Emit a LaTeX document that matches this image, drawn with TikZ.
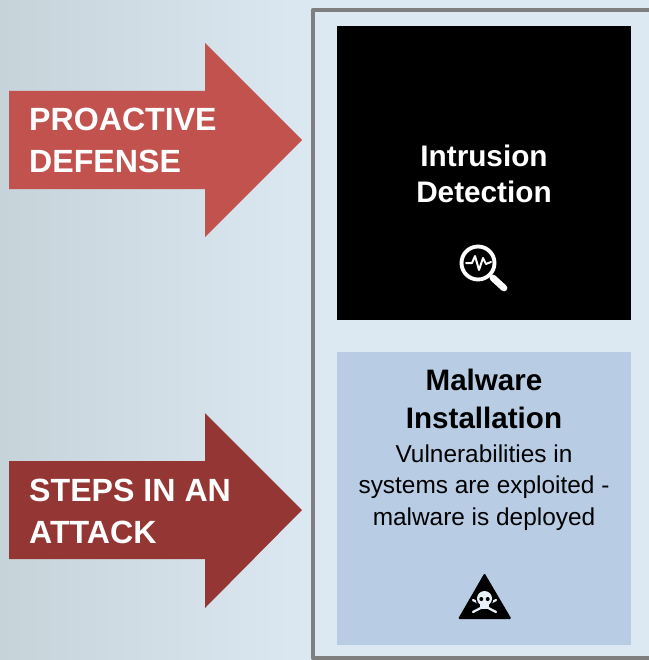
\documentclass[tikz,border=0pt]{standalone}
\usepackage{fontspec}
\setmainfont{Liberation Sans}
\definecolor{framegray}{HTML}{7F7F7F}
\definecolor{panelblue}{HTML}{DCE9F3}
\definecolor{stepblue}{HTML}{B8CCE4}
\definecolor{backleft}{HTML}{C6D3D9}
\definecolor{backmid}{HTML}{D2DDE4}
\definecolor{proactivered}{HTML}{C2524E}
\definecolor{attackred}{HTML}{943634}
\tikzset{
  arrowtext/.style={text=white,font=\fontsize{24.1}{31.5}\selectfont\bfseries,align=left,anchor=west},
  boxtext/.style={text=white,font=\fontsize{22.3}{27}\selectfont\bfseries,align=center},
  steptitle/.style={text=black,font=\fontsize{22.2}{29}\selectfont\bfseries,align=center},
  stepbody/.style={text=black,font=\fontsize{18.3}{23.6}\selectfont,align=center}
}
\begin{document}
\begin{tikzpicture}[x=0.75pt,y=-0.75pt]
      \useasboundingbox (0,0) rectangle (649,660);
      \shade[left color=backleft,middle color=backmid,right color=panelblue] (0,0) rectangle (320,660);
      \fill[panelblue] (315,0) rectangle (649,660);
      \draw[framegray,line width=3.4pt,line join=round] (649,10) -- (313,10) -- (313,658) -- (649,658);
      % arrows
      \fill[proactivered]
        (9,91) -- (205,91) -- (205,43) -- (302,140) -- (205,237) -- (205,189) -- (9,189) -- cycle;
      \fill[attackred]
        (9,461) -- (205,461) -- (205,413) -- (302,510) -- (205,608) -- (205,559) -- (9,559) -- cycle;
      \node[arrowtext] (proactive) at (24.5,140) {PROACTIVE\\DEFENSE};
      \node[arrowtext] (steps) at (24.5,511) {STEPS IN AN\\ATTACK};
      % boxes
      \fill[black] (337,26) rectangle (631,320);
      \fill[stepblue] (337,352) rectangle (631,645);
      \node[boxtext] (detection) at (484,173.5) {Intrusion\\Detection};
      \node[steptitle] (malware) at (484,399) {Malware\\Installation};
      \node[stepbody] (malwaretext) at (484,487.5) {Vulnerabilities in\\systems are exploited -\\malware is deployed};
      % magnifier
      \begin{scope}[white,line cap=round,line join=round]
        \draw[line width=2.9pt] (478,263) circle (16.5);
        \draw[line width=5pt] (493,278) -- (504,288);
        \draw[line width=1.5pt] (466,263) -- (472,263) -- (475,256) -- (479,270) -- (483,258) -- (486,264) -- (491,262);
      \end{scope}
      % warning sign
      \fill[black,rounded corners=1pt] (484.5,573) -- (511.5,619) -- (458,619) -- cycle;
      \begin{scope}[stepblue!30!white,line cap=round]
        \draw[line width=1.7pt] (473,600) -- (496,612);
        \draw[line width=1.7pt] (496,600) -- (473,612);
        \fill[black] (484.5,599) circle (8.8);
        \fill (484.5,598.5) circle (7.5);
        \fill (480,601) rectangle (489,608.5);
        \fill[black] (481.3,599) circle (2);
        \fill[black] (487.7,599) circle (2);
      \end{scope}
    \end{tikzpicture}
\end{document}
